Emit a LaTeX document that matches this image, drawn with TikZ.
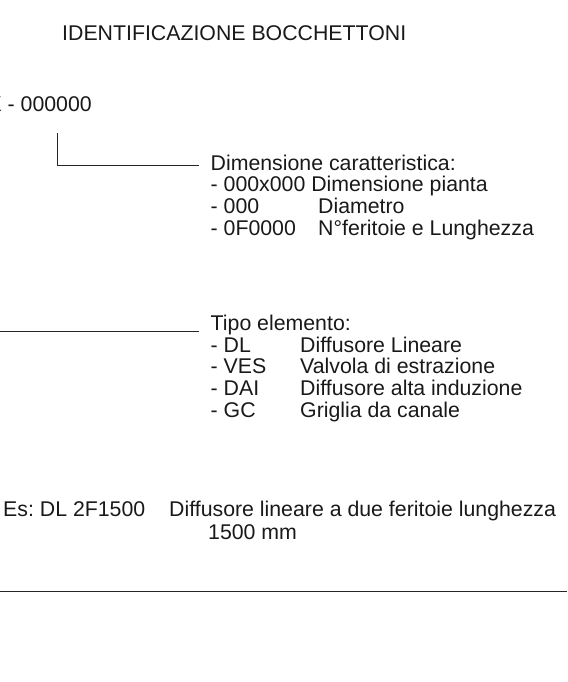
\documentclass[tikz,border=0pt]{standalone}
\usepackage{fontspec}
\setmainfont[Ligatures=NoCommon]{Liberation Sans}
\frenchspacing

\begin{document}
\begin{tikzpicture}[
  x=1pt, y=-1pt,
  every node/.style={text=black!90, inner sep=0pt,
    font=\fontsize{21.3}{21}\selectfont},
  txt/.style={anchor=base west},
  lead/.style={draw=black!85, line width=0.8pt}
]
  \useasboundingbox (0,0) rectangle (567,682);

  \node[txt] (title) at (62,41) {IDENTIFICAZIONE BOCCHETTONI};
  \node[anchor=base east] (code) at (92,112) {X - 000000};

  % dimensione
  \node[txt] (dim) at (210.5,170) {%
    \begin{tabular}[t]{@{}p{107.5pt}@{}l@{}}
      \multicolumn{2}{@{}l@{}}{Dimensione caratteristica:}\\
      \multicolumn{2}{@{}l@{}}{- 000x000 Dimensione pianta}\\
      - 000    & Diametro\\
      - 0F0000 & N°feritoie e Lunghezza
    \end{tabular}};

  % tipo elemento
  \node[txt] (tipo) at (210.5,330.5) {%
    \begin{tabular}[t]{@{}p{89.5pt}@{}l@{}}
      \multicolumn{2}{@{}l@{}}{Tipo elemento:}\\
      - DL  & Diffusore Lineare\\
      - VES & Valvola di estrazione\\
      - DAI & Diffusore alta induzione\\
      - GC  & Griglia da canale
    \end{tabular}};

  % esempio
  \node[txt] (es) at (3,516) {Es: DL 2F1500};
  \node[txt] (esdesc) at (169,516) {%
    \begin{tabular}[t]{@{}l@{}}
      Diffusore lineare a due feritoie lunghezza\\[2pt]
      \hspace{39pt}1500 mm
    \end{tabular}};

  \coordinate (dimtop) at (57,133);
  \coordinate (tipoleft) at (0,331);
  \coordinate (rulel) at (0,591);
  \coordinate (ruler) at (567,591);

  \draw[lead] (dimtop) |- ([xshift=-12pt,yshift=4.5pt]dim.base west);
  \draw[lead] (tipoleft) -- ([xshift=-12pt,yshift=-0.5pt]tipo.base west);
  \draw[lead] (rulel) -- (ruler);
\end{tikzpicture}
\end{document}
